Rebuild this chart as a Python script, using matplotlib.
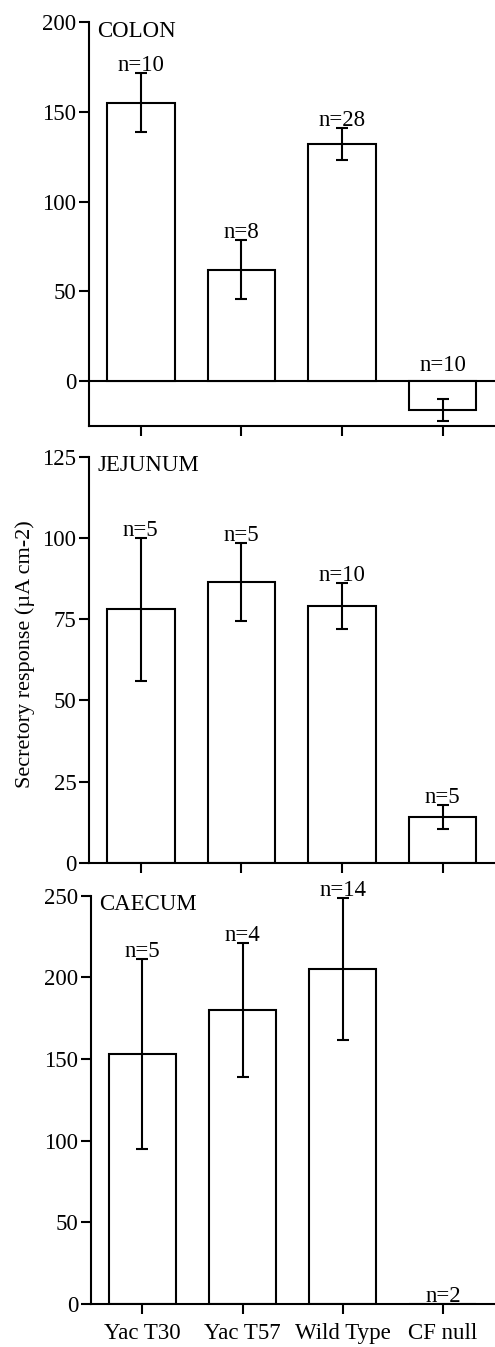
import matplotlib
matplotlib.use("Agg")
import matplotlib.pyplot as plt

categories = ["Yac T30", "Yac T57", "Wild Type", "CF null"]

colon_mean = [155, 62, 132, -16]
colon_err = [16.5, 16.5, 9, 6]
colon_n = [10, 8, 28, 10]

jejunum_mean = [78, 86.5, 79, 14]
jejunum_err = [22, 12, 7, 3.7]
jejunum_n = [5, 5, 10, 5]

caecum_mean = [153, 180, 205, 0]
caecum_err = [58, 41, 43.5, 0]
caecum_n = [5, 4, 14, 2]

plt.rcParams['font.family'] = ['Liberation Serif', 'DejaVu Serif']
FS = 16.5

fig = plt.figure(figsize=(4.95, 13.47), dpi=100)

panels = [
    dict(title="COLON", mean=colon_mean, err=colon_err, n=colon_n,
         rect=[89/495, 1-426/1347, 1-89/495, 404/1347], ylim=(-25, 200),
         yticks=[0, 50, 100, 150, 200], xl=-0.515, xlabels=False),
    dict(title="JEJUNUM", mean=jejunum_mean, err=jejunum_err, n=jejunum_n,
         rect=[89/495, 1-862.7/1347, 1-89/495, 406/1347], ylim=(0, 125),
         yticks=[0, 25, 50, 75, 100, 125], xl=-0.515, xlabels=False),
    dict(title="CAECUM", mean=caecum_mean, err=caecum_err, n=caecum_n,
         rect=[91/495, 1-1304/1347, 1-91/495, 408.3/1347], ylim=(0, 250),
         yticks=[0, 50, 100, 150, 200, 250], xl=-0.512, xlabels=True),
]

x = list(range(len(categories)))
LW = 1.5
for p in panels:
    ax = fig.add_axes(p["rect"])
    ax.bar(x, p["mean"], width=0.67, color="white", edgecolor="black",
           linewidth=LW, zorder=2)
    for xi, m, e, n in zip(x, p["mean"], p["err"], p["n"]):
        if e > 0:
            ax.errorbar(xi, m, yerr=e, fmt="none", ecolor="black",
                        elinewidth=LW, capsize=4.5, capthick=LW, zorder=3)
        if m >= 0:
            ytxt = m + e
            off = 1.5
        else:
            ytxt = 0
            off = 7
        ax.annotate(f"n={n}", (xi, ytxt), xytext=(0, off),
                    textcoords="offset points", ha="center", va="baseline",
                    fontsize=FS, zorder=4)
    ax.set_xlim(p["xl"], 3.52)
    ax.set_ylim(*p["ylim"])
    ax.set_yticks(p["yticks"])
    ax.set_xticks(x)
    if p["xlabels"]:
        ax.set_xticklabels(categories, fontsize=FS)
    else:
        ax.set_xticklabels([])
    for s in ["top", "right"]:
        ax.spines[s].set_visible(False)
    for s in ["left", "bottom"]:
        ax.spines[s].set_linewidth(LW)
    ax.tick_params(axis="y", direction="out", length=7, width=LW,
                   labelsize=FS, pad=2)
    ax.tick_params(axis="x", direction="out", length=7, width=LW,
                   labelsize=FS, pad=7)
    if p["ylim"][0] < 0:
        ax.axhline(0, color="black", linewidth=LW, zorder=1)
    ax.text(0.02, 1.003, p["title"], transform=ax.transAxes, ha="left",
            va="top", fontsize=FS)

fig.text(25/495, 1-654/1347, "Secretory response (µA cm-2)", rotation=90,
         ha="center", va="center", fontsize=16)

fig.savefig("out.png", dpi=100)
